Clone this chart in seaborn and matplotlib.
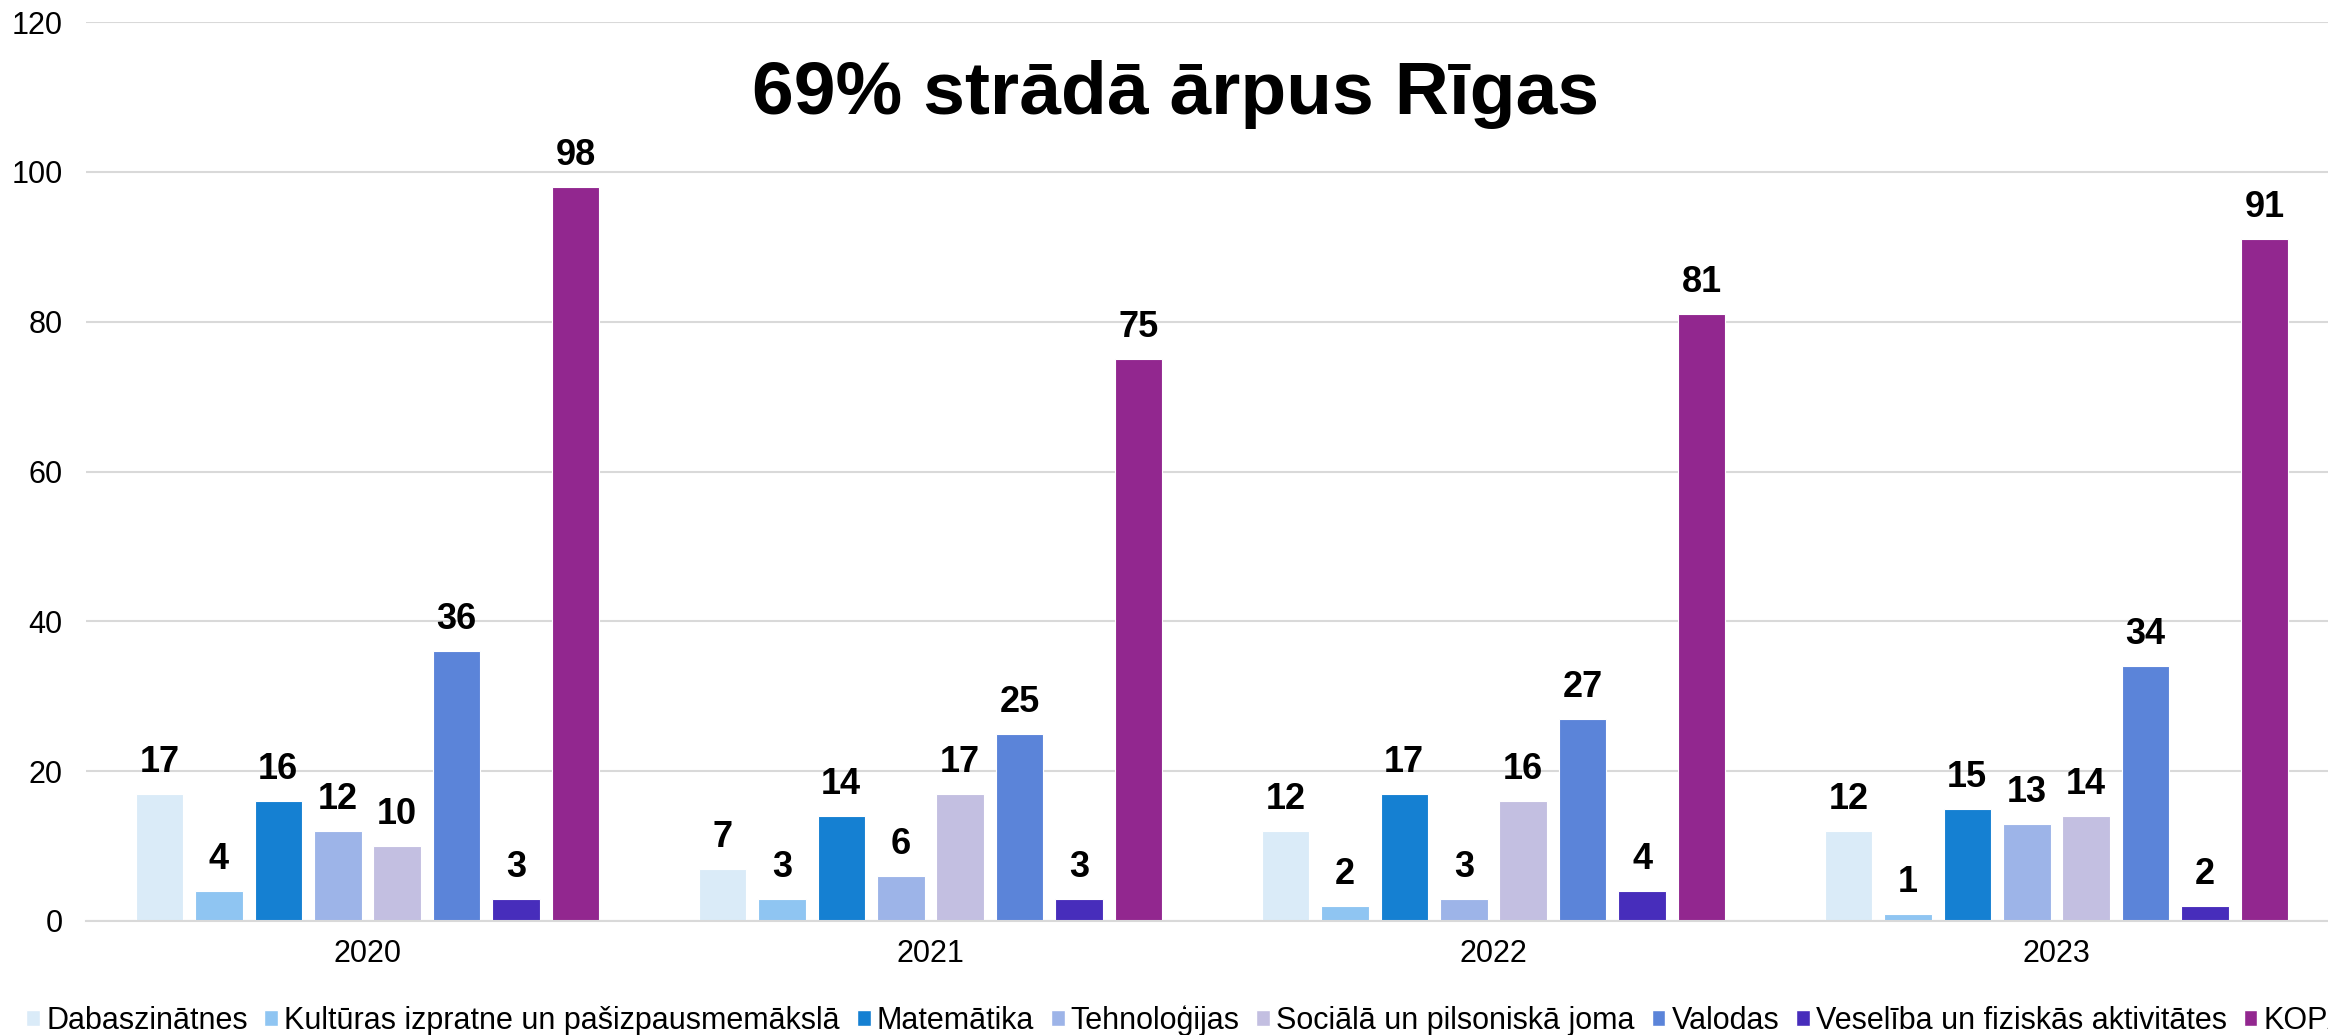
import numpy as np
import pandas as pd
import matplotlib
matplotlib.use("Agg")
import matplotlib.pyplot as plt
import seaborn as sns
from matplotlib.patches import Patch

# dati
years = ["2020", "2021", "2022", "2023"]
categories = [
    "Dabaszinātnes",
    "Kultūras izpratne un pašizpausmemākslā",
    "Matemātika",
    "Tehnoloģijas",
    "Sociālā un pilsoniskā joma",
    "Valodas",
    "Veselība un fiziskās aktivitātes",
    "KOPĀ",
]
values_2020 = [17, 4, 16, 12, 10, 36, 3, 98]
values_2021 = [7, 3, 14, 6, 17, 25, 3, 75]
values_2022 = [12, 2, 17, 3, 16, 27, 4, 81]
values_2023 = [12, 1, 15, 13, 14, 34, 2, 91]
colors = ["#DAEBF8", "#8FC5F2", "#1580D2", "#9DB4E8",
          "#C3BFE1", "#5B84D9", "#472DBB", "#92278F"]
title = "69% strādā ārpus Rīgas"

rows = []
for year, vals in zip(years, [values_2020, values_2021, values_2022, values_2023]):
    for cat, v in zip(categories, vals):
        rows.append({"Gads": year, "Joma": cat, "Skaits": v})
df = pd.DataFrame(rows)

sns.set_style("white")
plt.rcParams["font.family"] = ["Liberation Sans", "DejaVu Sans"]
plt.rcParams["text.color"] = "black"
plt.rcParams["xtick.color"] = "black"
plt.rcParams["ytick.color"] = "black"

fig = plt.figure(figsize=(23.28, 10.35), dpi=100)
ax = fig.add_axes([86 / 2328, 114 / 1035, (2338 - 86) / 2328, (921 - 22) / 1035])

sns.barplot(data=df, x="Gads", y="Skaits", hue="Joma", hue_order=categories,
            palette=colors, saturation=1, width=0.845, gap=0.2, legend=False, ax=ax,
            edgecolor="white", linewidth=0.8)

for cont in ax.containers:
    ax.bar_label(cont, fontsize=26, fontweight="bold", padding=10, color="black")

ax.set_ylim(0, 120)
ax.set_yticks(np.arange(0, 121, 20))
ax.yaxis.grid(True, color="#D9D9D9", linewidth=1.5)
ax.set_axisbelow(True)
for side in ["left", "right", "top"]:
    ax.spines[side].set_visible(False)
ax.spines["bottom"].set_color("#D9D9D9")
ax.spines["bottom"].set_linewidth(1.5)
ax.tick_params(axis="y", labelsize=22, length=0, pad=17)
ax.tick_params(axis="x", labelsize=22, length=0, pad=13)
ax.set_xlabel("")
ax.set_ylabel("")

fig.text(0.505, 0.909, title, ha="center", va="center",
         fontsize=54, fontweight="bold")

# legenda apakšā, labajā malā nogriezta kā oriģinālā
handles = [Patch(facecolor=c, edgecolor="white") for c in colors]
fig.legend(handles, categories, loc="center left", bbox_to_anchor=(0.006, 0.014),
           ncol=8, frameon=False, fontsize=22, handlelength=0.45, handleheight=0.45,
           handletextpad=0.2, columnspacing=0.55, borderaxespad=0)

fig.savefig("out.png", dpi=100)
